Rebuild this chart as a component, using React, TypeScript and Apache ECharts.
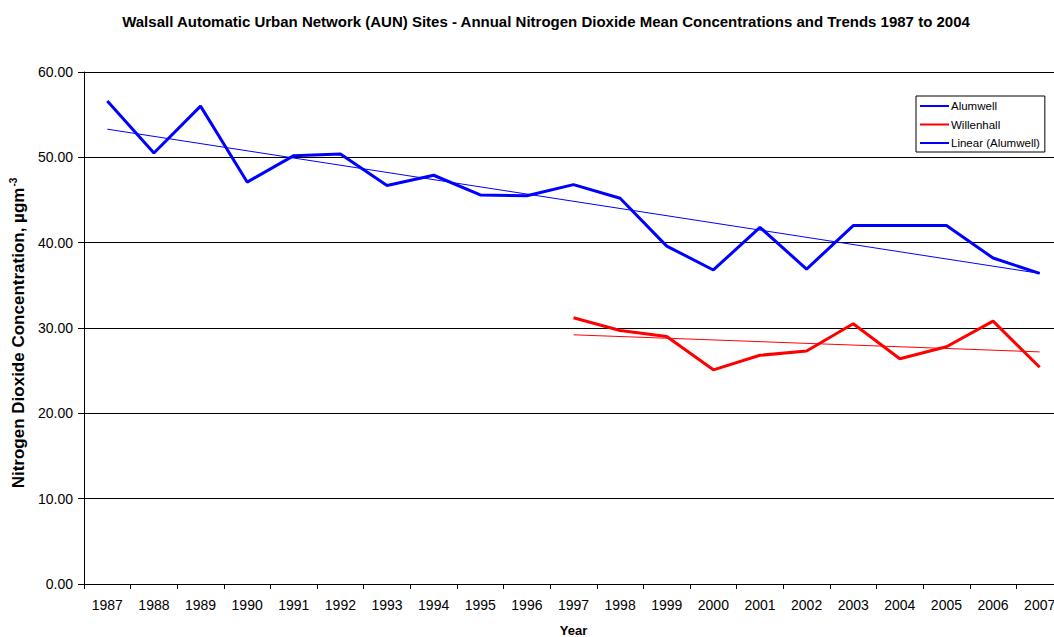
import React, { useEffect, useRef } from "react";
import * as echarts from "echarts";

const years = ["1987","1988","1989","1990","1991","1992","1993","1994","1995","1996","1997","1998","1999","2000","2001","2002","2003","2004","2005","2006","2007"];
const alumwell = [56.6, 50.5, 56.0, 47.1, 50.2, 50.4, 46.7, 47.9, 45.6, 45.5, 46.8, 45.2, 39.6, 36.8, 41.8, 36.9, 42.0, 42.0, 42.0, 38.2, 36.4];
const willenhallYears = ["1997","1998","1999","2000","2001","2002","2003","2004","2005","2006","2007"];
const willenhall = [31.2, 29.7, 29.0, 25.1, 26.8, 27.3, 30.5, 26.4, 27.8, 30.8, 25.4];
const alumwellTrendYears = ["1987", "2007"];
const alumwellTrend = [53.3, 36.4];
const willenhallTrendYears = ["1997", "2007"];
const willenhallTrend = [29.2, 27.2];
const yTicks = [0, 10, 20, 30, 40, 50, 60];

const FONT = "'Liberation Sans', Arial, sans-serif";

export default function App() {
  const ref = useRef<HTMLDivElement>(null);
  useEffect(() => {
    if (!ref.current) return;
    const chart = echarts.init(ref.current, undefined, { renderer: "svg" });
    chart.setOption({
      animation: false,
      backgroundColor: "#fff",
      textStyle: { fontFamily: FONT },
      title: {
        text: "Walsall Automatic Urban Network (AUN) Sites - Annual Nitrogen Dioxide Mean Concentrations and Trends 1987 to 2004",
        left: 541,
        textAlign: "center",
        top: 9,
        textStyle: { fontFamily: FONT, fontSize: 15, fontWeight: "bold", color: "#000" },
      },
      legend: {
        orient: "vertical",
        left: 916,
        top: 96,
        data: ["Alumwell", "Willenhall", "Linear (Alumwell)"],
        itemWidth: 29,
        itemHeight: 14,
        itemGap: 6.5,
        padding: [4, 5, 3, 3],
        borderColor: "#000",
        borderWidth: 1,
        backgroundColor: "#fff",
        itemStyle: { color: "transparent", borderWidth: 0, opacity: 0 },
        textStyle: { fontFamily: FONT, fontSize: 11.5, color: "#000", padding: [0, 0, 0, -3] },
      },
      grid: { left: 84, right: 0, top: 72, bottom: 53, containLabel: false, outerBoundsMode: "none" },
      xAxis: {
        type: "category",
        data: years,
        boundaryGap: true,
        name: "Year",
        nameLocation: "middle",
        nameGap: 40,
        nameTextStyle: { fontFamily: FONT, fontSize: 13, fontWeight: "bold", color: "#000" },
        axisLine: { lineStyle: { color: "#000", width: 1 } },
        axisTick: { show: true, length: 5, interval: 0, lineStyle: { color: "#000" } },
        axisLabel: { interval: 0, fontFamily: FONT, fontSize: 14, color: "#000", margin: 14 },
        splitLine: { show: false },
      },
      yAxis: {
        type: "value",
        min: 0,
        max: 60,
        interval: 10,
        name: "{main|Nitrogen Dioxide Concentration, µgm}{sup|-3}",
        nameLocation: "middle",
        nameGap: 57,
        nameRotate: 90,
        nameTextStyle: {
          fontFamily: FONT,
          fontSize: 17,
          fontWeight: "bold",
          color: "#000",
          padding: [0, 10, 0, 0],
          rich: {
            main: { fontFamily: FONT, fontSize: 17, fontWeight: "bold", color: "#000", lineHeight: 19, verticalAlign: "bottom" },
            sup: { fontFamily: FONT, fontSize: 10, fontWeight: "bold", color: "#000", lineHeight: 19, verticalAlign: "top", padding: [0, 0, 8, 1] },
          },
        },
        axisLine: { show: true, lineStyle: { color: "#000", width: 1 } },
        axisTick: { show: true, length: 6, lineStyle: { color: "#000" } },
        axisLabel: {
          fontFamily: FONT,
          fontSize: 14,
          color: "#000",
          margin: 11,
          formatter: (v: number) => (yTicks.includes(v) ? v.toFixed(2) : ""),
        },
        splitLine: { show: true, lineStyle: { color: "#000", width: 1 } },
      },
      series: [
        {
          name: "Alumwell",
          type: "line",
          data: alumwell,
          symbol: "none",
          color: "#0000FF",
          lineStyle: { color: "#0000FF", width: 3 },
          z: 3,
        },
        {
          name: "Willenhall",
          type: "line",
          data: willenhallYears.map((y, i) => [y, willenhall[i]]),
          symbol: "none",
          color: "#FF0000",
          lineStyle: { color: "#FF0000", width: 3 },
          z: 3,
        },
        {
          name: "Linear (Alumwell)",
          type: "line",
          data: alumwellTrendYears.map((y, i) => [y, alumwellTrend[i]]),
          symbol: "none",
          color: "#0000FF",
          lineStyle: { color: "#0000FF", width: 1 },
          z: 4,
        },
        {
          name: "Linear (Willenhall)",
          type: "line",
          data: willenhallTrendYears.map((y, i) => [y, willenhallTrend[i]]),
          symbol: "none",
          color: "#FF0000",
          lineStyle: { color: "#FF0000", width: 1 },
          z: 4,
        },
      ],
    });
    return () => chart.dispose();
  }, []);
  return (
    <div style={{ position: "absolute", left: 0, top: 0, width: 1054, height: 637, overflow: "hidden", background: "#fff" }}>
      <div ref={ref} style={{ width: 1063, height: 637 }} />
    </div>
  );
}
